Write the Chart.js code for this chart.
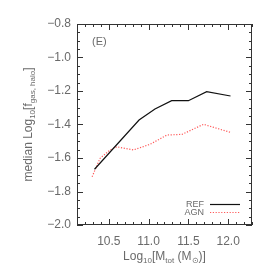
<!DOCTYPE html>
<html><head><meta charset="utf-8">
<script src="https://cdn.jsdelivr.net/npm/chart.js@4/dist/chart.umd.min.js"></script>
<style>html,body{margin:0;padding:0;background:#fff}#c{display:block}</style>
</head><body>
<canvas id="c" width="274" height="274"></canvas>
<script>
const refX = [10.32, 10.88, 11.08, 11.29, 11.50, 11.73, 12.03];
const refY = [-1.667, -1.373, -1.307, -1.258, -1.258, -1.204, -1.230];
const agnX = [10.29, 10.39, 10.515, 10.60, 10.81, 11.02, 11.23, 11.42, 11.69, 12.03];
const agnY = [-1.712, -1.602, -1.552, -1.533, -1.552, -1.518, -1.463, -1.459, -1.399, -1.447];
const xMajor = [10.5, 11.0, 11.5, 12.0];
const yMajor = [-2.0, -1.8, -1.6, -1.4, -1.2, -1.0, -0.8];
const seriesNames = ['REF', 'AGN'];
const panelLabel = '(E)';

const TXT = '#6a6a6a', AX = '#333';
const FONT = 'Liberation Sans, Arial, sans-serif';

function fmt(v){ const s = Math.abs(v).toFixed(1); return v < 0 ? '\u2212' + s : s; }

const deco = {
  id: 'deco',
  afterDraw(chart){
    const ctx = chart.ctx, a = chart.chartArea, xs = chart.scales.x, ys = chart.scales.y;
    ctx.save();
    ctx.strokeStyle = AX; ctx.lineWidth = 1;
    ctx.strokeRect(Math.round(a.left)+0.5, Math.round(a.top)+0.5, Math.round(a.right-a.left)-1, Math.round(a.bottom-a.top)-1);
    ctx.beginPath();
    for (let v = Math.ceil(xs.min*10-1e-6); v <= Math.floor(xs.max*10+1e-6); v++){
      const px = Math.round(xs.getPixelForValue(v/10))+0.5;
      const L = (v % 5 === 0) ? 6 : 3;
      ctx.moveTo(px, a.bottom); ctx.lineTo(px, a.bottom-L);
      ctx.moveTo(px, a.top); ctx.lineTo(px, a.top+L);
    }
    for (let v = Math.ceil(ys.min*20-1e-6); v <= Math.floor(ys.max*20+1e-6); v++){
      const py = Math.round(ys.getPixelForValue(v/20))+0.5;
      const L = (v % 4 === 0) ? 6 : 3;
      ctx.moveTo(a.left, py); ctx.lineTo(a.left+L, py);
      ctx.moveTo(a.right, py); ctx.lineTo(a.right-L, py);
    }
    ctx.stroke();

    // panel label
    ctx.fillStyle = TXT; ctx.font = '11px ' + FONT;
    ctx.textAlign = 'left'; ctx.textBaseline = 'alphabetic';
    ctx.fillText(panelLabel, a.left + 15, a.top + 21);

    // x title
    const drawRich = (parts, x, y, align) => {
      let w = 0;
      parts.forEach(p => { ctx.font = p.size + 'px ' + FONT; w += ctx.measureText(p.t).width; });
      let cx = align === 'center' ? x - w/2 : x;
      parts.forEach(p => {
        ctx.font = p.size + 'px ' + FONT;
        ctx.fillText(p.t, cx, y + (p.dy||0));
        cx += ctx.measureText(p.t).width;
      });
    };
    ctx.textAlign = 'left';
    drawRich([
      {t:'Log', size:12}, {t:'10', size:8, dy:3}, {t:'[M', size:12},
      {t:'tot', size:8, dy:3}, {t:' (M', size:12}, {t:'\u2299', size:8, dy:3}, {t:')]', size:12}
    ], (a.left+a.right)/2, 260, 'center');

    // y title
    ctx.save();
    ctx.translate(32, (a.top+a.bottom)/2);
    ctx.rotate(-Math.PI/2);
    drawRich([
      {t:'median Log', size:12}, {t:'10', size:8, dy:3}, {t:'[f', size:12},
      {t:'gas, halo', size:8, dy:3}, {t:']', size:12}
    ], 0, 0, 'center');
    ctx.restore();

    // legend
    const ds = chart.data.datasets;
    const ly = [204.5, 212.5];
    ctx.font = '9px ' + FONT; ctx.textAlign = 'right'; ctx.textBaseline = 'middle';
    ds.forEach((d, i) => {
      ctx.fillStyle = TXT;
      ctx.fillText(d.label, 204, ly[i]);
      ctx.beginPath();
      ctx.strokeStyle = d.borderColor; ctx.lineWidth = d.borderWidth;
      ctx.setLineDash(d.borderDash || []);
      ctx.moveTo(210, ly[i]); ctx.lineTo(240, ly[i]);
      ctx.stroke();
      ctx.setLineDash([]);
    });
    ctx.restore();
  }
};

new Chart(document.getElementById('c'), {
  type: 'line',
  data: {
    datasets: [
      { label: seriesNames[0], data: refX.map((x,i)=>({x, y: refY[i]})), borderColor: '#111', borderWidth: 1.2, pointRadius: 0, tension: 0, fill: false },
      { label: seriesNames[1], data: agnX.map((x,i)=>({x, y: agnY[i]})), borderColor: '#ff5a5a', borderWidth: 1.2, borderDash: [1.2, 1.6], pointRadius: 0, tension: 0, fill: false }
    ]
  },
  options: {
    responsive: false, animation: false, devicePixelRatio: 1,
    layout: { padding: { left: 0, top: 24, right: 22, bottom: 0 } },
    plugins: { legend: { display: false }, tooltip: { enabled: false } },
    scales: {
      x: {
        type: 'linear', min: 10.1, max: 12.3,
        afterFit(s){ s.height = 49; },
        afterBuildTicks(s){ s.ticks = xMajor.map(v => ({value: v})); },
        grid: { display: false, drawTicks: false },
        border: { display: false },
        ticks: { padding: 9, color: TXT, font: { family: FONT, size: 12 }, maxRotation: 0, autoSkip: false, callback: v => v.toFixed(1) }
      },
      y: {
        type: 'linear', min: -2.0, max: -0.8,
        afterFit(s){ s.width = 77; },
        afterBuildTicks(s){ s.ticks = yMajor.map(v => ({value: v})); },
        grid: { display: false, drawTicks: false },
        border: { display: false },
        ticks: { padding: 6, color: TXT, font: { family: FONT, size: 12 }, autoSkip: false, callback: v => fmt(v) }
      }
    }
  },
  plugins: [deco]
});
</script>
</body></html>
